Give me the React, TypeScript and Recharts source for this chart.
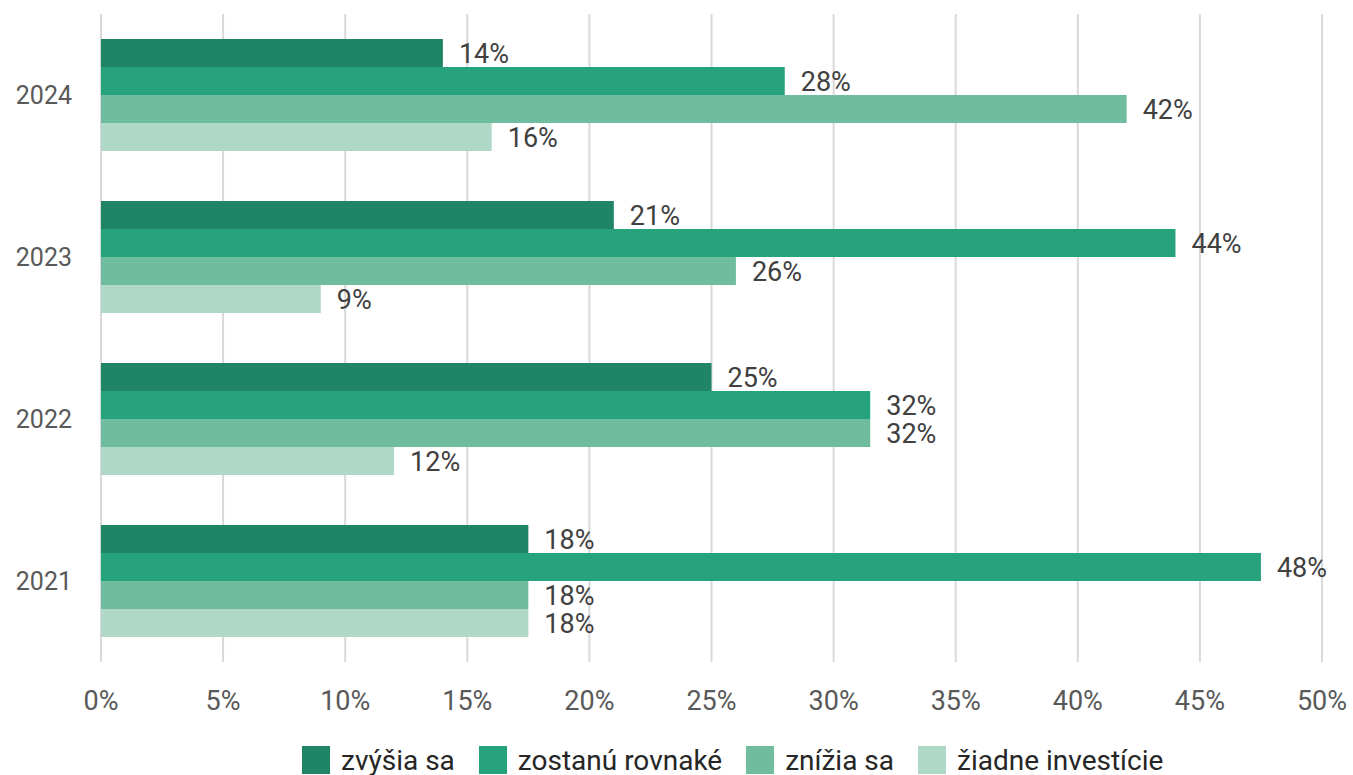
import React from 'react';
import { BarChart, Bar, XAxis, YAxis, CartesianGrid, Legend, LabelList } from 'recharts';

const years = ['2024', '2023', '2022', '2021'];
const increase = [14, 21, 25, 17.5];
const same = [28, 44, 31.5, 47.5];
const decrease = [42, 26, 31.5, 17.5];
const noInvest = [16, 9, 12, 17.5];
const xTicks = [0, 5, 10, 15, 20, 25, 30, 35, 40, 45, 50];

const seriesList = [
  { key: 'increase', name: 'zvýšia sa', color: '#1f8566' },
  { key: 'same', name: 'zostanú rovnaké', color: '#26a37c' },
  { key: 'decrease', name: 'znížia sa', color: '#6fbd9e' },
  { key: 'noInvest', name: 'žiadne investície', color: '#b0d8c7' },
];

const data = years.map((year, i) => ({
  year,
  increase: increase[i],
  same: same[i],
  decrease: decrease[i],
  noInvest: noInvest[i],
}));

const font = 'Roboto, "Noto Sans", sans-serif';

const LegendContent = () => (
  <div
    style={{
      display: 'flex',
      justifyContent: 'flex-start',
      alignItems: 'center',
      height: 34,
      paddingTop: 4,
      paddingLeft: 302,
      boxSizing: 'border-box',
      fontFamily: font,
      fontSize: 28,
      color: '#262626',
    }}
  >
    {seriesList.map(s => (
      <div key={s.key} style={{ display: 'flex', alignItems: 'center', marginRight: 24 }}>
        <span style={{ width: 28, height: 28, background: s.color, display: 'inline-block', marginRight: 11 }} />
        <span>{s.name}</span>
      </div>
    ))}
  </div>
);

const App: React.FC = () => {
  return (
    <div style={{ position: 'absolute', left: 0, top: 0 }}>
      <BarChart
        width={1353}
        height={775}
        data={data}
        layout="vertical"
        barGap={0}
        barCategoryGap={25}
        margin={{ top: 14, right: 31, left: 0, bottom: 0 }}
      >
        <CartesianGrid horizontal={false} stroke="#d9d9d9" strokeWidth={2} />
        <XAxis
          type="number"
          domain={[0, 50]}
          ticks={xTicks}
          tickFormatter={v => `${v}%`}
          axisLine={false}
          tickLine={false}
          tickSize={0}
          tickMargin={29}
          height={79}
          tick={{ fill: '#595959', fontSize: 27, fontFamily: font }}
        />
        <YAxis
          type="category"
          dataKey="year"
          width={101}
          axisLine={false}
          tickLine={false}
          tickSize={0}
          tickMargin={29}
          tick={{ fill: '#595959', fontSize: 25, fontFamily: font }}
        />
        <Legend
          verticalAlign="bottom"
          wrapperStyle={{ left: 0, width: 1353 }}
          content={() => <LegendContent />}
        />
        {seriesList.map(s => (
          <Bar key={s.key} dataKey={s.key} name={s.name} fill={s.color} isAnimationActive={false}>
            <LabelList
              dataKey={s.key}
              position="right"
              offset={16}
              formatter={(v: number) => `${Math.round(v)}%`}
              style={{ fill: '#404040', fontSize: 27, fontFamily: font }}
            />
          </Bar>
        ))}
      </BarChart>
    </div>
  );
};

export default App;
